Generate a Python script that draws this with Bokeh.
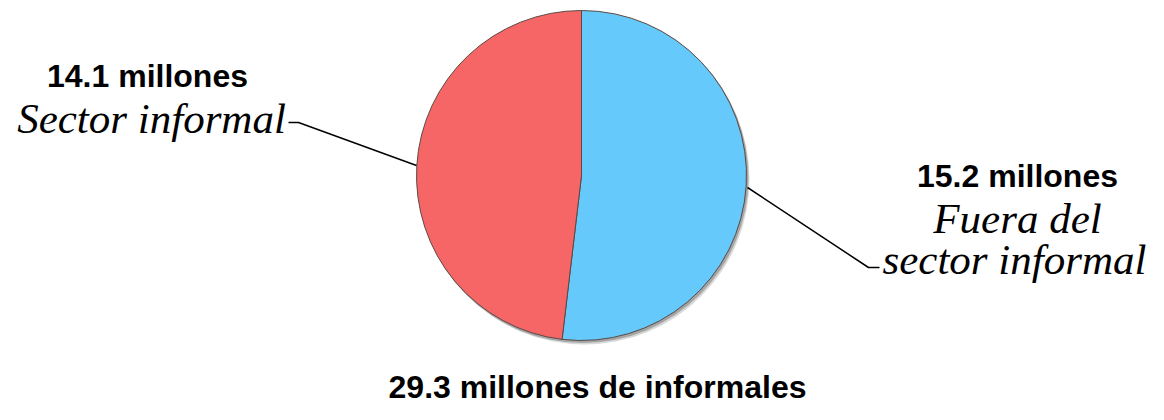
import math
from bokeh.plotting import figure
from bokeh.models import Range1d, ColumnDataSource
from bokeh.core.properties import value
from bokeh.embed import file_html
from bokeh.resources import INLINE

# ---- data ----
categories = ["Fuera del sector informal", "Sector informal"]
values = [15.2, 14.1]
colors = ["#66C9FC", "#F76667"]
value_labels = ["15.2 millones", "14.1 millones"]
name_lines = [["Fuera del", "sector informal"], ["Sector informal"]]
total_label = "29.3 millones de informales"

W, H = 1148, 404
p = figure(width=W, height=H, output_backend="svg", toolbar_location=None,
           x_range=Range1d(0, W), y_range=Range1d(0, H),
           x_axis_type=None, y_axis_type=None, min_border=0)
p.grid.visible = False
p.outline_line_color = None
p.background_fill_color = "white"
p.border_fill_color = "white"


def Y(py):
    return H - py


cx, cy, R = 581, Y(175), 165

# soft shadow
p.circle(x=[cx + 3], y=[cy - 4], radius=R, fill_color="#666666",
         fill_alpha=0.25, line_color=None)
p.circle(x=[cx + 1.5], y=[cy - 2], radius=R + 0.5, fill_color="#444444",
         fill_alpha=0.35, line_color=None)

total = sum(values)
starts, ends = [], []
a = math.pi / 2
for v in values:
    sweep = 2 * math.pi * v / total
    starts.append(a)
    ends.append(a - sweep)
    a -= sweep

src = ColumnDataSource(dict(cat=categories, start=starts, end=ends, color=colors))
p.wedge(x=cx, y=cy, radius=R, start_angle="start", end_angle="end",
        direction="clock", fill_color="color", line_color="#5b4a42",
        line_width=1, source=src)

# leader lines
p.line(x=[288, 298, 416], y=[Y(122), Y(122), Y(165)], line_color="black", line_width=1.5)
p.line(x=[747, 868, 879], y=[Y(187), Y(267), Y(267)], line_color="black", line_width=1.5)

bold = dict(text_font=value("Liberation Sans"), text_font_style="bold",
            text_font_size="32px", text_align="center", text_baseline="middle",
            text_color="black")
ital = dict(text_font=value("Liberation Serif"), text_font_style="italic",
            text_font_size="43px", text_align="center", text_baseline="middle",
            text_color="black")

# right label (first category)
p.text(x=[1017], y=[Y(175)], text=[value_labels[0]], **bold)
p.text(x=[1017, 1014], y=[Y(218), Y(259)], text=name_lines[0], **ital)
# left label (second category)
p.text(x=[147], y=[Y(75)], text=[value_labels[1]], **bold)
p.text(x=[151], y=[Y(118)], text=name_lines[1], **ital)
# total
p.text(x=[597], y=[Y(386)], text=[total_label], **bold)

open("out.html", "w").write(file_html(p, INLINE))
